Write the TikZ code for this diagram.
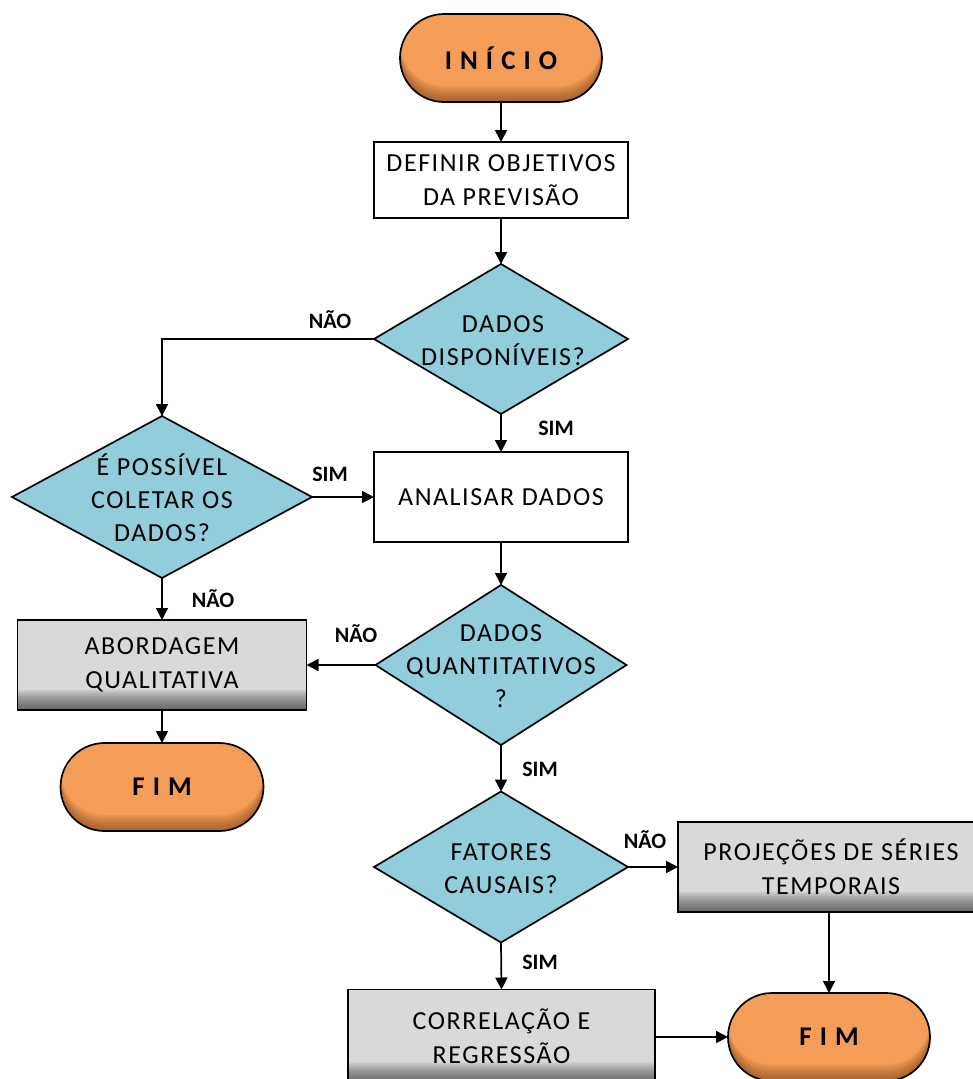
\documentclass[tikz,border=0pt]{standalone}
\usepackage{fontspec}
\setmainfont{Carlito}[LetterSpace=6]
\newfontfamily\termfont{Carlito}[LetterSpace=30]
\newfontfamily\answerfont{Carlito}
\usetikzlibrary{arrows.meta,shapes.geometric}

\definecolor{termorange}{HTML}{F49D58}
\definecolor{termdark}{HTML}{6E3A12}
\definecolor{decaqua}{HTML}{92CDDC}
\definecolor{boxgray}{HTML}{D9D9D9}
\definecolor{boxdark}{HTML}{3A3A3A}

\tikzset{
  base/.style={draw=black, line width=1.7pt, inner sep=0pt, outer sep=0pt},
  % soft inner shadow along the lower rim: stacked translucent layers
  innershadow/.style n args={3}{path picture={
    \foreach \d in {2,4,...,#2}
      \fill[#1, opacity=#3, even odd rule, sharp corners]
        ([shift={(-6pt,-6pt)}]path picture bounding box.south west) rectangle
        ([shift={(6pt,6pt)}]path picture bounding box.north east)
        [rounded corners=\pgfkeysvalueof{/tikz/shadowradius}]
        ([yshift=\d pt]path picture bounding box.south west) rectangle
        ([yshift=\d pt]path picture bounding box.north east);}},
  shadowradius/.initial=0pt,
  terminal/.style={base, rectangle, rounded corners=44pt,
    minimum width=202pt, minimum height=88pt, fill=termorange,
    font=\termfont\bfseries\fontsize{27}{30}\selectfont,
    shadowradius=44pt, innershadow={termdark}{16}{0.09}},
  whitebox/.style={base, rectangle, fill=white, align=center,
    font=\fontsize{26}{34}\selectfont},
  graybox/.style={base, rectangle, fill=boxgray, align=center,
    font=\fontsize{26}{34}\selectfont,
    shadowradius=0pt, innershadow={boxdark}{20}{0.1}},
  decision/.style={base, diamond, fill=decaqua},
  dectext/.style={align=center, inner sep=0pt, font=\fontsize{26}{33}\selectfont},
  answer/.style={inner sep=0pt, font=\answerfont\bfseries\fontsize{22}{24}\selectfont},
  arr/.style={line width=1.7pt, -{Triangle[length=12pt,width=12pt]}}
}

\begin{document}
\begin{tikzpicture}[x=1pt,y=-1pt]
  \useasboundingbox[fill=white] (0,0) rectangle (972,1079);

  % main column
  \node[terminal] (start) at (501,58) {INÍCIO};
  \node[whitebox, minimum width=254pt, minimum height=76pt] (def) at (501,180)
    {DEFINIR OBJETIVOS\\DA PREVISÃO};
  \node[decision, minimum width=254pt, minimum height=150pt] (d1) at (501,339) {};
  \node[dectext] (t1) at (503,341) {DADOS\\DISPONÍVEIS?};
  \node[whitebox, minimum width=254pt, minimum height=90pt] (ana) at (501,497)
    {ANALISAR DADOS};
  \node[decision, minimum width=251pt, minimum height=160pt] (d3) at (501,665) {};
  \node[dectext] (t3) at (501,666) {DADOS\\QUANTITATIVOS\\?};
  \node[decision, minimum width=254pt, minimum height=151pt] (d4) at (501,867) {};
  \node[dectext] (t4) at (501,869) {FATORES\\CAUSAIS?};
  \node[graybox, minimum width=307pt, minimum height=93pt] (corr) at (501.5,1036)
    {CORRELAÇÃO E\\REGRESSÃO};

  % left branch
  \node[decision, minimum width=300pt, minimum height=162pt] (d2) at (162,497) {};
  \node[dectext] (t2) at (162,498) {É POSSÍVEL\\COLETAR OS\\DADOS?};
  \node[graybox, minimum width=289pt, minimum height=90pt] (abo) at (162,665)
    {ABORDAGEM\\QUALITATIVA};
  \node[terminal, minimum width=203pt] (fim1) at (162,787) {FIM};

  % right branch
  \node[graybox, minimum width=306pt, minimum height=90pt] (proj) at (831,867)
    {PROJEÇÕES DE SÉRIES\\TEMPORAIS};
  \node[terminal] (fim2) at (829,1037) {FIM};

  % connectors
  \draw[arr] (start) -- (def);
  \draw[arr] (def) -- (d1);
  \draw[arr] (d1.south) -- (ana.north);
  \draw[arr] (d1.west) -| (d2.north);
  \draw[arr] (d2.east) -- (ana.west);
  \draw[arr] (d2.south) -- (abo.north);
  \draw[arr] (ana.south) -- (d3.north);
  \draw[arr] (d3.west) -- (abo.east);
  \draw[arr] (abo.south) -- (fim1.north);
  \draw[arr] (d3.south) -- (d4.north);
  \draw[arr] (d4.east) -- (proj.west);
  \draw[arr] (d4.south) -- (corr.north);
  \draw[arr] (proj.south -| fim2.north) -- (fim2.north);
  \draw[arr] (fim2.west -| corr.east) -- (fim2.west);

  % branch answers
  \node[answer] (a1) at (330,320) {NÃO};
  \node[answer] (a2) at (556,428) {SIM};
  \node[answer] (a3) at (330,474) {SIM};
  \node[answer] (a4) at (213,599) {NÃO};
  \node[answer] (a5) at (356,634) {NÃO};
  \node[answer] (a6) at (540,769) {SIM};
  \node[answer] (a7) at (645,840) {NÃO};
  \node[answer] (a8) at (540,962) {SIM};
\end{tikzpicture}
\end{document}
